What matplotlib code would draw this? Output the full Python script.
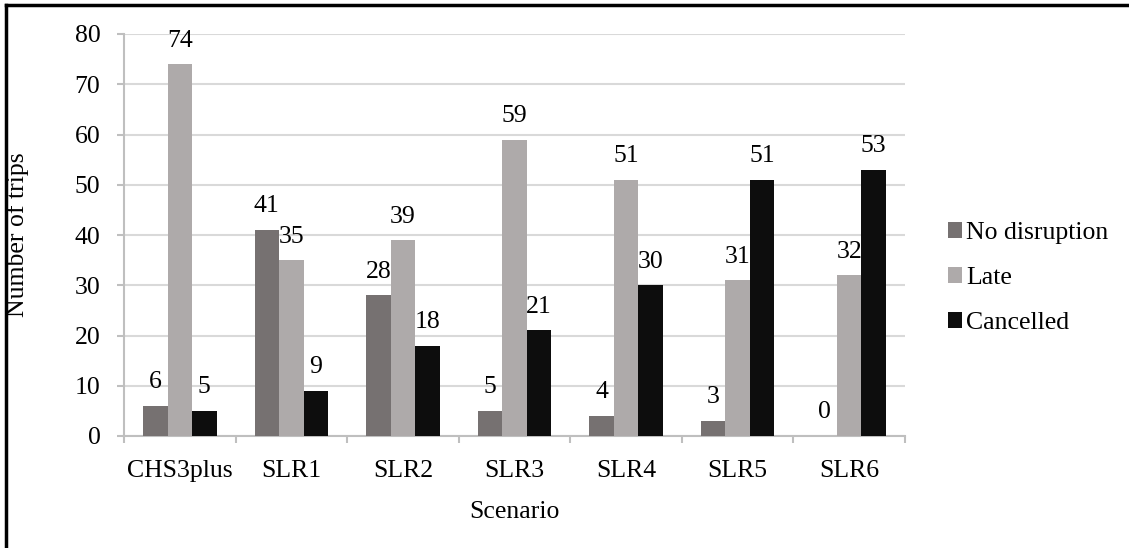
import matplotlib
matplotlib.use("Agg")
import matplotlib.pyplot as plt
from matplotlib.lines import Line2D
import numpy as np

categories = ["CHS3plus", "SLR1", "SLR2", "SLR3", "SLR4", "SLR5", "SLR6"]
no_disruption = [6, 41, 28, 5, 4, 3, 0]
late = [74, 35, 39, 59, 51, 31, 32]
cancelled = [5, 9, 18, 21, 30, 51, 53]
series_names = ["No disruption", "Late", "Cancelled"]
colors = ["#767171", "#AEAAAA", "#0D0D0D"]

plt.rcParams['font.family'] = ['Liberation Serif', 'DejaVu Serif']
FS = 18.5

fig = plt.figure(figsize=(11.29, 5.48), dpi=100)
ax = fig.add_axes([124/1129, 1-436/548, (905-124)/1129, (436-34)/548])

x = np.arange(len(categories))
w = 0.22
for i, (vals, name, c) in enumerate(zip([no_disruption, late, cancelled], series_names, colors)):
    pos = x + (i - 1) * w
    bars = ax.bar(pos, vals, width=w, color=c, label=name, zorder=3)
    for p, v in zip(pos, vals):
        ax.annotate(str(v), (p, v), xytext=(0, 9), textcoords='offset points',
                    ha='center', va='bottom', fontsize=FS, zorder=4)

ax.set_xlim(-0.5, len(categories) - 0.5)
ax.set_ylim(0, 80)
ax.set_yticks(range(0, 81, 10))
ax.set_xticks(x)
ax.set_xticklabels(categories)
ax.set_xticks(np.arange(-0.5, len(categories)), minor=True)
ax.tick_params(axis='x', which='major', length=0, pad=17, labelsize=FS)
ax.tick_params(axis='x', which='minor', length=5, width=1.5, color='#BFBFBF')
ax.tick_params(axis='y', length=5, width=1.5, color='#BFBFBF', pad=12, labelsize=FS)
ax.grid(axis='y', color='#D9D9D9', linewidth=1.5, zorder=0)
ax.set_axisbelow(True)
for s in ['top', 'right']:
    ax.spines[s].set_visible(False)
for s in ['left', 'bottom']:
    ax.spines[s].set_color('#BFBFBF')
    ax.spines[s].set_linewidth(1.5)

ax.set_ylabel("Number of trips", fontsize=FS)
ax.set_xlabel("Scenario", fontsize=FS, labelpad=14)
ax.yaxis.set_label_coords(-0.121, 0.5)

leg = ax.legend(loc='center left', bbox_to_anchor=(938/1129, 1-278/548), bbox_transform=fig.transFigure,
                frameon=False, fontsize=FS, handlelength=0.55, handleheight=0.55,
                handletextpad=0.15, labelspacing=0.9, borderaxespad=0)

fig.add_artist(Line2D([6/1129, 6/1129], [0, 1-5/548], transform=fig.transFigure, color='black', linewidth=2.5))
fig.add_artist(Line2D([6/1129, 1], [1-5/548, 1-5/548], transform=fig.transFigure, color='black', linewidth=2.5))

fig.savefig("out.png", dpi=100)
